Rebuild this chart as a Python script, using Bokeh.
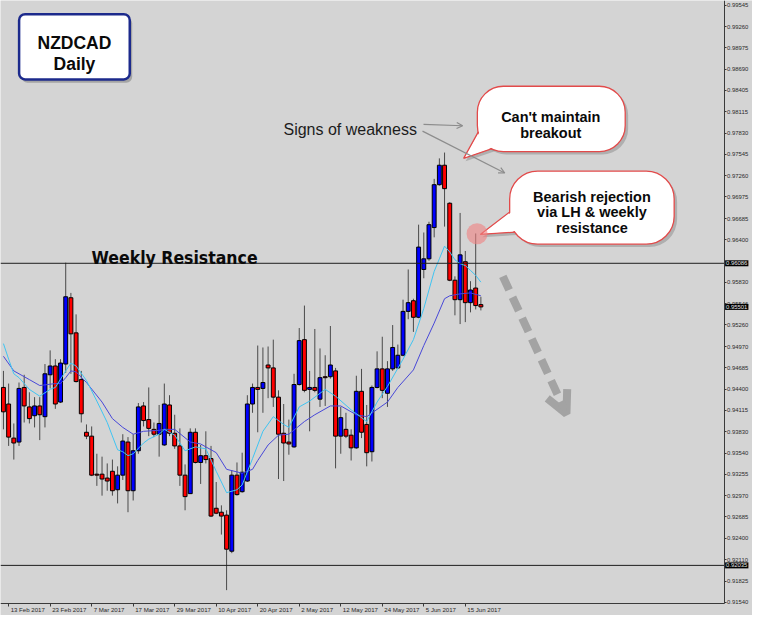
import numpy as np
from bokeh.plotting import figure
from bokeh.models import (ColumnDataSource, Range1d, FixedTicker, PrintfTickFormatter,
                          Label, Arrow, OpenHead)
from bokeh.core.properties import value
from bokeh.embed import file_html
from bokeh.resources import INLINE

# ---------------- data (NZDCAD daily, 10 Feb 2017 - 20 Jun 2017) ----------------
opens = [0.94421, 0.94199, 0.93742, 0.93689, 0.94421, 0.94160, 0.94042, 0.94173, 0.94029, 0.94591,
         0.94709, 0.94225, 0.94735, 0.95624, 0.95153, 0.94526, 0.93820, 0.93768, 0.93258, 0.93258,
         0.93206, 0.93297, 0.93049, 0.93245, 0.93689, 0.93036, 0.93572, 0.94173, 0.93990, 0.93859,
         0.93794, 0.93650, 0.94186, 0.93807, 0.93637, 0.93245, 0.92997, 0.93820, 0.93415, 0.93506,
         0.93467, 0.92801, 0.92748, 0.92709, 0.92225, 0.93245, 0.93023, 0.93166, 0.94199, 0.94421,
         0.94408, 0.94722, 0.94683, 0.94291, 0.93807, 0.93689, 0.93624, 0.94460, 0.95062, 0.94395,
         0.94421, 0.94264, 0.94565, 0.94565, 0.94643, 0.93768, 0.93859, 0.93781, 0.93611, 0.94369,
         0.93925, 0.93559, 0.94421, 0.94670, 0.94343, 0.94670, 0.94683, 0.94853, 0.95441, 0.95584,
         0.95362, 0.96003, 0.96146, 0.96565, 0.97140, 0.97401, 0.96891, 0.95859, 0.95598, 0.96107,
         0.95558, 0.95754, 0.95532]
highs = [0.94643, 0.94473, 0.93938, 0.94487, 0.94591, 0.94356, 0.94291, 0.94291, 0.94735, 0.94918,
         0.94800, 0.94800, 0.96094, 0.95689, 0.95401, 0.94643, 0.93925, 0.93898, 0.93532, 0.93493,
         0.93402, 0.93454, 0.93363, 0.93794, 0.93755, 0.93794, 0.94212, 0.94225, 0.94421, 0.93951,
         0.94186, 0.94473, 0.94317, 0.94055, 0.93872, 0.93389, 0.93872, 0.93872, 0.93650, 0.93833,
         0.93637, 0.93153, 0.92840, 0.92774, 0.93310, 0.93415, 0.93546, 0.94317, 0.94473, 0.94983,
         0.94957, 0.94970, 0.95062, 0.94382, 0.94199, 0.93990, 0.94604, 0.95218, 0.95519, 0.94643,
         0.95205, 0.94944, 0.94853, 0.95245, 0.94683, 0.94160, 0.94081, 0.93859, 0.94578, 0.94670,
         0.94186, 0.94447, 0.94905, 0.95101, 0.94774, 0.95258, 0.94996, 0.95598, 0.96003, 0.95611,
         0.96604, 0.96499, 0.96643, 0.97218, 0.97493, 0.97571, 0.96905, 0.95911, 0.96761, 0.96251,
         0.95846, 0.96486, 0.95637]
lows = [0.93859, 0.93637, 0.93454, 0.93637, 0.93951, 0.93938, 0.93885, 0.93715, 0.93885, 0.94408,
        0.94134, 0.94212, 0.94617, 0.94604, 0.94487, 0.93951, 0.93728, 0.93232, 0.93101, 0.92970,
        0.93036, 0.92970, 0.92866, 0.93180, 0.92748, 0.92905, 0.93532, 0.93898, 0.93768, 0.93755,
        0.93493, 0.93637, 0.93768, 0.93598, 0.93101, 0.92774, 0.92997, 0.93402, 0.93127, 0.93402,
        0.92683, 0.92722, 0.92448, 0.91703, 0.92199, 0.92970, 0.93010, 0.93153, 0.94081, 0.93820,
        0.94081, 0.94277, 0.94160, 0.93193, 0.93166, 0.93519, 0.93611, 0.94447, 0.94356, 0.93833,
        0.94356, 0.94160, 0.94173, 0.94539, 0.93336, 0.93532, 0.93742, 0.93441, 0.93598, 0.93742,
        0.93363, 0.93428, 0.94408, 0.94277, 0.94160, 0.94643, 0.94670, 0.94839, 0.95336, 0.95166,
        0.95349, 0.95885, 0.96120, 0.96434, 0.97127, 0.96578, 0.95846, 0.95388, 0.95271, 0.95297,
        0.95428, 0.95467, 0.95454]
closes = [0.94094, 0.93755, 0.93676, 0.94408, 0.94173, 0.94003, 0.94173, 0.94055, 0.94604, 0.94709,
          0.94199, 0.94748, 0.95637, 0.95140, 0.94500, 0.94068, 0.93768, 0.93245, 0.93245, 0.93193,
          0.93166, 0.93036, 0.93245, 0.93702, 0.93036, 0.93572, 0.94160, 0.93977, 0.93872, 0.93794,
          0.93938, 0.94199, 0.93807, 0.93637, 0.93245, 0.92957, 0.93820, 0.93415, 0.93506, 0.93454,
          0.92696, 0.92735, 0.92696, 0.92252, 0.93245, 0.92984, 0.93284, 0.94199, 0.94421, 0.94395,
          0.94487, 0.94683, 0.94291, 0.93794, 0.93676, 0.93663, 0.94460, 0.95049, 0.94382, 0.94421,
          0.94382, 0.94552, 0.94552, 0.94722, 0.93768, 0.94016, 0.93768, 0.93611, 0.94369, 0.93820,
          0.93546, 0.94421, 0.94670, 0.94382, 0.94670, 0.94957, 0.94853, 0.95441, 0.95558, 0.95362,
          0.96303, 0.96146, 0.96604, 0.97140, 0.97401, 0.97087, 0.95859, 0.95598, 0.96199, 0.95558,
          0.95728, 0.95519, 0.95501]

# moving averages (read at selected bars)
fast_idx = [0, 1, 2, 3, 5, 7, 9, 10, 12, 13, 14, 16, 18, 20, 22, 23, 24, 25, 27, 28, 30, 31, 33, 35,
            37, 39, 41, 43, 45, 46, 48, 50, 52, 54, 55, 57, 59, 62, 64, 67, 70, 72, 74, 77, 79, 81,
            83, 84, 85, 86, 87, 88, 89, 90, 91, 92]
fast_ma = [0.95009, 0.94800, 0.94604, 0.94552, 0.94395, 0.94304, 0.94395, 0.94421, 0.94643, 0.94748,
           0.94709, 0.94513, 0.94238, 0.93951, 0.93585, 0.93559, 0.93506, 0.93532, 0.93676, 0.93728,
           0.93794, 0.93859, 0.93781, 0.93572, 0.93624, 0.93598, 0.93297, 0.93010, 0.93049, 0.93114,
           0.93467, 0.93833, 0.94029, 0.93925, 0.93885, 0.94160, 0.94238, 0.94395, 0.94304, 0.94121,
           0.93964, 0.94225, 0.94434, 0.94800, 0.95062, 0.95480, 0.95977, 0.96146, 0.96316, 0.96238,
           0.96133, 0.96081, 0.96055, 0.95990, 0.95924, 0.95833]
slow_idx = [0, 2, 5, 7, 10, 11, 12, 13, 14, 16, 19, 21, 23, 25, 27, 30, 31, 33, 36, 38, 41, 43, 46,
            48, 49, 51, 53, 55, 58, 60, 63, 65, 68, 70, 74, 76, 79, 81, 83, 85, 86, 88, 90, 92]
slow_ma = [0.94839, 0.94643, 0.94526, 0.94447, 0.94473, 0.94473, 0.94552, 0.94643, 0.94630, 0.94487,
           0.94225, 0.94003, 0.93885, 0.93794, 0.93833, 0.93846, 0.93859, 0.93859, 0.93689, 0.93663,
           0.93546, 0.93323, 0.93271, 0.93323, 0.93441, 0.93650, 0.93781, 0.93794, 0.93964, 0.94055,
           0.94173, 0.94173, 0.94055, 0.94029, 0.94225, 0.94421, 0.94656, 0.94983, 0.95284, 0.95611,
           0.95650, 0.95676, 0.95689, 0.95650]

date_idx = [1, 9, 17, 25, 33, 41, 49, 57, 65, 73, 81, 89]
date_labels = ["13 Feb 2017", "23 Feb 2017", "7 Mar 2017", "17 Mar 2017", "29 Mar 2017",
               "10 Apr 2017", "20 Apr 2017", "2 May 2017", "12 May 2017", "24 May 2017",
               "5 Jun 2017", "15 Jun 2017"]

price_ticks = [0.99545, 0.99260, 0.98975, 0.98690, 0.98405, 0.98115, 0.97830, 0.97545, 0.97260,
               0.96975, 0.96685, 0.96400, 0.95830, 0.95546, 0.95260, 0.94970, 0.94685, 0.94400,
               0.94115, 0.93830, 0.93540, 0.93255, 0.92970, 0.92685, 0.92400, 0.92110, 0.91825,
               0.91540]

resistance = 0.96086
support = 0.92035
last_price = 0.95501

# -------- mapping of reference chart pixels to chart coordinates (for layout/annotations) --------
def X(px):
    return (px - 3.0) / 5.3


def Y(py):
    return 0.99610 - py * 0.0001307


BG = "#d4d4d4"
AXIS_X = X(739)   # price-axis line position
# The frame spans the whole canvas; the axes are pinned at fixed locations inside it.
p = figure(width=752, height=615, output_backend="svg", toolbar_location=None,
           x_range=Range1d(X(0), X(768)), y_range=Range1d(Y(631), Y(0)),
           y_axis_location="right", min_border_left=0, min_border_top=0,
           min_border_right=0, min_border_bottom=0)
p.background_fill_color = BG
p.border_fill_color = BG
p.outline_line_color = None
p.grid.visible = False

AX = "#3a3a3a"
# price axis (right)
p.yaxis.fixed_location = AXIS_X
p.yaxis.bounds = (Y(619), Y(0))
p.yaxis.ticker = FixedTicker(ticks=price_ticks)
p.yaxis.formatter = PrintfTickFormatter(format="%.5f")
p.yaxis.major_label_text_font = "Liberation Sans"
p.yaxis.major_label_text_font_size = "5.9px"
p.yaxis.major_label_text_color = "#2a2a2a"
p.yaxis.major_tick_out = 2
p.yaxis.major_tick_in = 0
p.yaxis.major_label_standoff = 1
p.yaxis.minor_tick_line_color = None
p.yaxis.axis_line_color = AX
p.yaxis.major_tick_line_color = AX

# time axis (bottom) - ticks; labels drawn left-aligned beside each tick as in MT4
p.xaxis.fixed_location = Y(619)
p.xaxis.bounds = (X(0), AXIS_X)
p.xaxis.ticker = FixedTicker(ticks=date_idx)
p.xaxis.major_label_overrides = {i: "" for i in date_idx}
p.xaxis.major_label_text_font_size = "1px"
p.xaxis.major_tick_out = 3
p.xaxis.major_tick_in = 0
p.xaxis.major_label_standoff = 0
p.xaxis.minor_tick_line_color = None
p.xaxis.axis_line_color = AX
p.xaxis.major_tick_line_color = AX

for i, t in zip(date_idx, date_labels):
    p.add_layout(Label(x=i, y=Y(619), x_offset=2, y_offset=-2, text=t, text_align="left",
                       text_baseline="top", text_font="Liberation Sans", text_font_size="6.1px",
                       text_color="#2a2a2a"))

# candles
idx = np.arange(len(opens))
o = np.array(opens)
c = np.array(closes)
up = c >= o
src = ColumnDataSource(dict(x=idx, high=highs, low=lows, top=np.maximum(o, c),
                            bottom=np.minimum(o, c),
                            color=np.where(up, "#0000ff", "#ff0000")))
p.segment("x", "high", "x", "low", source=src, line_color="#4a4a4a", line_width=1)
p.vbar(x="x", width=0.75, top="top", bottom="bottom", source=src, fill_color="color",
       line_color="#000000", line_width=1)

# moving averages
p.line(slow_idx, slow_ma, line_color="#4848d8", line_width=1)
p.line(fast_idx, fast_ma, line_color="#3fc4f2", line_width=1)

# horizontal levels (up to the price axis)
for lv in (resistance, support):
    p.segment(x0=[X(0)], y0=[lv], x1=[AXIS_X], y1=[lv], line_color="#1e1e1e", line_width=1)

for lv in (resistance, last_price, support):
    p.add_layout(Label(x=AXIS_X, y=lv, x_offset=1, text=f"{lv:.5f}", text_baseline="middle",
                       text_align="left", text_font="Liberation Sans", text_font_size="5.9px",
                       text_color="#e6e6e6", background_fill_color="#000000", padding=1))

# ---------------- annotations ----------------
FONT = value("Liberation Sans")

# title box
sx = 2.5 / 5.3
sy = 3.5 * 0.0001307
p.quad(left=[X(19) + sx], right=[X(132) + sx], top=[Y(14) - sy], bottom=[Y(81) - sy],
       fill_color="#6a6a6a", fill_alpha=0.45, line_color=None, border_radius=6)
p.quad(left=[X(19)], right=[X(132)], top=[Y(14)], bottom=[Y(81)], fill_color="white",
       line_color="#1c2a8c", line_width=2.5, border_radius=6)
p.text(x=[X(75.5)], y=[Y(43.5)], text=["NZDCAD"], text_font=FONT, text_font_style="bold",
       text_font_size="17.5px", text_align="center", text_baseline="alphabetic", text_color="#0a0a0a")
p.text(x=[X(75.5)], y=[Y(65.5)], text=["Daily"], text_font=FONT, text_font_style="bold",
       text_font_size="17.5px", text_align="center", text_baseline="alphabetic", text_color="#0a0a0a")

# weekly resistance label
p.text(x=[X(93)], y=[Y(264)], text=["Weekly Resistance"],
       text_font=value("DejaVu Sans Condensed"),
       text_font_style="bold", text_font_size="17.5px", text_align="left",
       text_baseline="alphabetic", text_color="#0a0a0a")

# signs of weakness
p.text(x=[X(289)], y=[Y(132)], text=["Signs of weakness"], text_font=FONT,
       text_font_size="16px", text_align="left", text_baseline="alphabetic",
       text_color="#1c1c1c")
GR = "#8c8c8c"
p.add_layout(Arrow(x_start=X(432), y_start=Y(127), x_end=X(472), y_end=Y(128.5),
                   line_color=GR, line_width=1.2,
                   end=OpenHead(size=6, line_color=GR, line_width=1.2)))
p.add_layout(Arrow(x_start=X(431), y_start=Y(134), x_end=X(515), y_end=Y(177),
                   line_color=GR, line_width=1.2,
                   end=OpenHead(size=6, line_color=GR, line_width=1.2)))

RED = "#e24a4a"


def bubble(l, r, t, b, rad, tail, lines, cx, baselines):
    tx = [X(v[0]) for v in tail]
    ty = [Y(v[1]) for v in tail]
    # shadow
    p.quad(left=[X(l + 3)], right=[X(r + 3)], top=[Y(t + 3)], bottom=[Y(b + 3)],
           fill_color="#6a6a6a", fill_alpha=0.35, line_color=None, border_radius=rad)
    p.patch([X(v[0] + 2) for v in tail], [Y(v[1] + 3) for v in tail], fill_color="#6a6a6a",
            fill_alpha=0.35, line_color=None)
    # tail with outline
    p.patch(tx, ty, fill_color="white", line_color=RED, line_width=1.3)
    # body
    p.quad(left=[X(l)], right=[X(r)], top=[Y(t)], bottom=[Y(b)], fill_color="white",
           line_color=RED, line_width=1.3, border_radius=rad)
    # cover the joint
    gx = sum(v[0] for v in tail) / 3.0
    gy = sum(v[1] for v in tail) / 3.0
    p.patch([X(gx + 0.85 * (v[0] - gx)) for v in tail], [Y(gy + 0.85 * (v[1] - gy)) for v in tail],
            fill_color="white", line_color=None)
    for txt, bl in zip(lines, baselines):
        p.text(x=[X(cx)], y=[Y(bl)], text=[txt], text_font=FONT, text_font_style="bold",
               text_font_size="14.5px", text_align="center", text_baseline="alphabetic",
               text_color="#0a0a0a")


bubble(487, 638, 88, 155, 26, [(489, 133), (473, 162), (505, 151)],
       ["Can't maintain", "breakout"], 562, [120, 136])
bubble(520, 688, 175, 250, 28, [(524, 214), (490, 240), (534, 237)],
       ["Bearish rejection", "via LH & weekly", "resistance"], 604, [201.5, 217.5, 233.5])

# pink marker on the rejection wick
p.scatter(x=[X(486.7)], y=[Y(239.3)], size=21, marker="circle", fill_color="#f08080",
          fill_alpha=0.6, line_color=None)

# projected move arrow
AG = "#a3a3a3"
p.add_layout(Arrow(x_start=X(513), y_start=Y(283), x_end=X(578), y_end=Y(424),
                   line_color=AG, line_width=8, line_dash="15 8",
                   end=OpenHead(size=22, line_color=AG, line_width=8)))

open("out.html", "w").write(file_html(p, INLINE))
